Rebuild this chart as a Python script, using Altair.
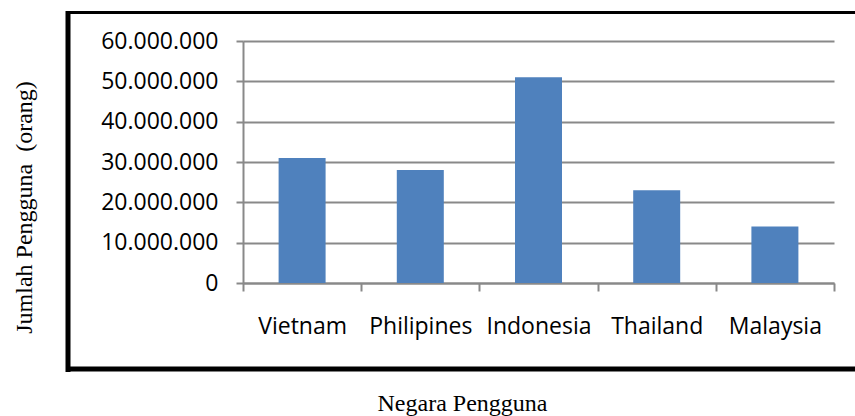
import altair as alt
import pandas as pd

countries = ["Vietnam", "Philipines", "Indonesia", "Thailand", "Malaysia"]
users = [31000000, 28000000, 51000000, 23000000, 14000000]
y_ticks = [0, 10000000, 20000000, 30000000, 40000000, 50000000, 60000000]

df = pd.DataFrame({"Negara": countries, "Pengguna": users})
one = pd.DataFrame({"k": [0]})

GRAY = "#898989"

bars = alt.Chart(df).mark_bar(size=47, color="#4F81BD").encode(
    x=alt.X(
        "Negara:N",
        sort=countries,
        scale=alt.Scale(paddingInner=0, paddingOuter=0),
        axis=alt.Axis(
            title="Negara Pengguna",
            tickBand="extent",
            tickSize=8,
            tickWidth=2,
            tickColor=GRAY,
            domainColor=GRAY,
            domainWidth=2,
            grid=False,
            labelAngle=0,
            labelFont="Open Sans",
            labelFontSize=23,
            labelColor="#000000",
            labelPadding=42,
            labelBaseline="alphabetic",
            titleFont="Liberation Serif",
            titleFontSize=24,
            titleFontWeight="normal",
            titleColor="#000000",
            titleX=219,
            titleY=127,
            titleAlign="center",
            titleBaseline="alphabetic",
        ),
    ),
    y=alt.Y(
        "Pengguna:Q",
        scale=alt.Scale(domain=[0, 60000000], nice=False),
        axis=alt.Axis(
            values=y_ticks,
            labelExpr="replace(format(datum.value, ',d'), regexp(',', 'g'), '.')",
            title="Jumlah Pengguna\u00a0 (orang)",
            tickSize=7,
            tickWidth=2,
            tickColor=GRAY,
            domainColor=GRAY,
            domainWidth=2,
            grid=True,
            gridColor=GRAY,
            gridWidth=2,
            labelFont="Open Sans",
            labelFontSize=23,
            labelColor="#000000",
            labelPadding=18,
            titleFont="Liberation Serif",
            titleFontSize=24,
            titleFontWeight="normal",
            titleColor="#000000",
            titleAngle=270,
            titleX=-212,
            titleY=166,
            titleAlign="center",
            titleBaseline="alphabetic",
        ),
    ),
)

frame_left = alt.Chart(one).mark_rule(color="black", strokeWidth=5).encode(
    x=alt.value(-175), y=alt.value(-30), y2=alt.value(331)
)
frame_top = alt.Chart(one).mark_rule(color="black", strokeWidth=3).encode(
    x=alt.value(-177), x2=alt.value(640), y=alt.value(-28.5)
)
frame_bottom = alt.Chart(one).mark_rule(color="black", strokeWidth=5).encode(
    x=alt.value(-177), x2=alt.value(640), y=alt.value(328)
)

chart = (
    alt.layer(bars, frame_left, frame_top, frame_bottom)
    .properties(
        width=591,
        height=242,
        autosize=alt.AutoSizeParams(type="none"),
        padding={"left": 243, "top": 41, "right": 21, "bottom": 133},
        background="white",
    )
    .configure_view(strokeWidth=0)
)

chart.save("out.html", embed_options={"renderer": "svg", "actions": False})
